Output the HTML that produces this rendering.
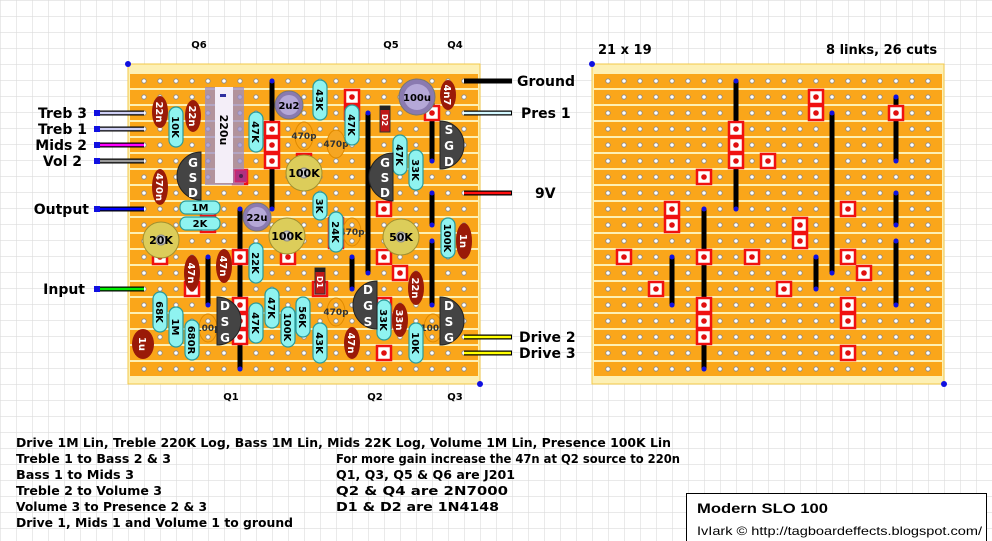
<!DOCTYPE html>
<html><head><meta charset="utf-8"><style>
html,body{margin:0;padding:0;background:#fff}
svg{display:block}
text{font-family:"DejaVu Sans","Liberation Sans",sans-serif;font-weight:bold}
.r{fill:#8ff3f0;stroke:#2a9a9a;stroke-width:1.2}
.rt{font-size:10px;fill:#000}
.c{fill:#9a1a08}
.ct{font-size:10px;fill:#fff}
.sc{fill:none;stroke:#e08a00;stroke-width:1}
.st{font-size:9px;fill:#333;font-weight:bold}
.lbl{font-size:14px;fill:#000}
.bt{font-size:12.5px;fill:#000;font-family:"Liberation Sans",sans-serif}
</style></head><body>
<svg width="992" height="541" viewBox="0 0 992 541" xmlns="http://www.w3.org/2000/svg">
<defs>
<pattern id="grid" x="0" y="0" width="16" height="16" patternUnits="userSpaceOnUse">
<path d="M0 0H16M0 0V16" stroke="#dcdcdc" stroke-width="1.2" fill="none"/></pattern>
<pattern id="strip" x="0" y="73" width="16" height="16" patternUnits="userSpaceOnUse">
<rect x="0" y="1" width="16" height="14" fill="#faa61a"/></pattern>
<pattern id="holes" x="136" y="73" width="16" height="16" patternUnits="userSpaceOnUse">
<circle cx="8" cy="8" r="2.2" fill="#fff" stroke="#888" stroke-width="0.8"/></pattern>
<pattern id="holes2" x="600" y="73" width="16" height="16" patternUnits="userSpaceOnUse">
<circle cx="8" cy="8" r="2.2" fill="#fff" stroke="#888" stroke-width="0.8"/></pattern>
<g id="cut"><rect x="-7" y="-7" width="14" height="14" fill="#fff" stroke="#f01010" stroke-width="2.5"/><circle r="2.8" fill="#e01010"/></g>
</defs>
<rect width="992" height="541" fill="url(#grid)"/>

<rect x="128" y="64" width="352" height="320" fill="#fdf0b4" stroke="#f2c84a"/>
<rect x="130" y="73" width="348" height="304" fill="url(#strip)"/>
<rect x="136" y="73" width="336" height="304" fill="url(#holes)"/>
<rect x="592" y="64" width="352" height="320" fill="#fdf0b4" stroke="#f2c84a"/>
<rect x="594" y="73" width="348" height="304" fill="url(#strip)"/>
<rect x="600" y="73" width="336" height="304" fill="url(#holes2)"/>
<circle cx="128" cy="64" r="3" fill="#1010e0"/><circle cx="480" cy="384" r="3" fill="#1010e0"/>
<circle cx="592" cy="64" r="3" fill="#1010e0"/><circle cx="944" cy="384" r="3" fill="#1010e0"/>

<g id="lc">
<g stroke="#000" stroke-width="5">
<line x1="272" y1="81" x2="272" y2="209"/>
<line x1="368" y1="113" x2="368" y2="273"/>
<line x1="432" y1="97" x2="432" y2="161"/>
<line x1="432" y1="193" x2="432" y2="225"/>
<line x1="432" y1="241" x2="432" y2="305"/>
<line x1="208" y1="257" x2="208" y2="305"/>
<line x1="352" y1="257" x2="352" y2="289"/>
<line x1="240" y1="209" x2="240" y2="369"/>
</g>
<g fill="#1010e0">
<circle cx="272" cy="81" r="2.5"/><circle cx="272" cy="209" r="2.5"/><circle cx="368" cy="113" r="2.5"/><circle cx="368" cy="273" r="2.5"/>
<circle cx="432" cy="97" r="2.5"/><circle cx="432" cy="161" r="2.5"/><circle cx="432" cy="193" r="2.5"/><circle cx="432" cy="225" r="2.5"/>
<circle cx="432" cy="241" r="2.5"/><circle cx="432" cy="305" r="2.5"/><circle cx="208" cy="257" r="2.5"/><circle cx="208" cy="305" r="2.5"/>
<circle cx="352" cy="257" r="2.5"/><circle cx="352" cy="289" r="2.5"/><circle cx="240" cy="209" r="2.5"/><circle cx="240" cy="369" r="2.5"/>
</g>
<use href="#cut" x="352" y="97"/><use href="#cut" x="352" y="113"/><use href="#cut" x="432" y="113"/>
<use href="#cut" x="272" y="129"/><use href="#cut" x="272" y="145"/><use href="#cut" x="272" y="161"/><use href="#cut" x="304" y="161"/>
<use href="#cut" x="240" y="177"/>
<use href="#cut" x="208" y="209"/><use href="#cut" x="384" y="209"/>
<use href="#cut" x="208" y="225"/><use href="#cut" x="336" y="225"/>
<use href="#cut" x="336" y="241"/>
<use href="#cut" x="160" y="257"/><use href="#cut" x="240" y="257"/><use href="#cut" x="288" y="257"/><use href="#cut" x="384" y="257"/>
<use href="#cut" x="400" y="273"/>
<use href="#cut" x="192" y="289"/><use href="#cut" x="320" y="289"/>
<use href="#cut" x="240" y="305"/><use href="#cut" x="384" y="305"/>
<use href="#cut" x="240" y="321"/><use href="#cut" x="384" y="321"/>
<use href="#cut" x="240" y="337"/>
<use href="#cut" x="384" y="353"/>
</g>
<use href="#lc" x="464" y="0"/>

<g stroke="#000" stroke-width="5"><line x1="96" y1="113" x2="144" y2="113"/><line x1="96" y1="129" x2="144" y2="129"/><line x1="96" y1="145" x2="144" y2="145"/><line x1="96" y1="161" x2="144" y2="161"/><line x1="96" y1="209" x2="144" y2="209"/><line x1="96" y1="289" x2="144" y2="289"/>
<line x1="464" y1="81" x2="512" y2="81"/><line x1="464" y1="113" x2="512" y2="113"/><line x1="464" y1="193" x2="512" y2="193"/><line x1="464" y1="337" x2="512" y2="337"/><line x1="464" y1="353" x2="512" y2="353"/></g>
<g stroke-width="2.5"><line x1="97" y1="113" x2="144" y2="113" stroke="#cfd0f5"/><line x1="97" y1="129" x2="144" y2="129" stroke="#cfd0f5"/><line x1="97" y1="145" x2="144" y2="145" stroke="#ff00ff"/><line x1="97" y1="161" x2="144" y2="161" stroke="#999"/><line x1="97" y1="209" x2="144" y2="209" stroke="#0000ff"/><line x1="97" y1="289" x2="144" y2="289" stroke="#00ee00"/>
<line x1="464" y1="113" x2="511" y2="113" stroke="#d4f8ff"/><line x1="464" y1="193" x2="511" y2="193" stroke="#ff1010"/><line x1="464" y1="337" x2="511" y2="337" stroke="#ffff00"/><line x1="464" y1="353" x2="511" y2="353" stroke="#ffff00"/></g>
<g fill="#1010e0"><rect x="94" y="110" width="6" height="6"/><rect x="94" y="126" width="6" height="6"/><rect x="94" y="142" width="6" height="6"/><rect x="94" y="158" width="6" height="6"/><rect x="94" y="206" width="6" height="6"/><rect x="94" y="286" width="6" height="6"/></g>

<rect x="205" y="87" width="39" height="98" fill="#9a8cc8" opacity="0.75"/>
<rect x="215" y="87" width="18" height="96" fill="#f4eef8"/>
<rect x="220" y="94" width="6" height="3" fill="#3030a0"/>
<text class="rt" transform="rotate(90 224 130)" x="224" y="134" text-anchor="middle" style="font-size:11px">220u</text>
<rect x="235" y="170" width="12" height="12" fill="#b03080" stroke="#e02060"/><circle cx="241" cy="176" r="2" fill="#502050"/>

<circle cx="289" cy="105" r="14" fill="#8a7ab0" stroke="#777"/><circle cx="289" cy="105" r="10" fill="#b5a8d8"/><text x="289" y="109" class="rt" text-anchor="middle">2u2</text>
<circle cx="257" cy="217" r="14" fill="#8a7ab0" stroke="#777"/><circle cx="257" cy="217" r="10" fill="#b5a8d8"/><text x="257" y="221" class="rt" text-anchor="middle">22u</text>
<circle cx="417" cy="97" r="18" fill="#8a7ab0" stroke="#777"/><circle cx="417" cy="97" r="13" fill="#b5a8d8"/><text x="417" y="101" class="rt" text-anchor="middle">100u</text>

<g fill="#dccd5a" stroke="#a09030">
<circle cx="161" cy="240" r="18"/><circle cx="304" cy="173" r="18"/><circle cx="287" cy="236" r="18"/><circle cx="401" cy="237" r="18"/></g>
<g fill="#ccc" stroke="#888"><circle cx="161" cy="240" r="5"/><circle cx="304" cy="173" r="5"/><circle cx="287" cy="236" r="5"/><circle cx="401" cy="237" r="5"/></g>
<text class="rt" style="font-size:11px" x="161" y="244" text-anchor="middle">20K</text>
<text class="rt" style="font-size:11px" x="304" y="177" text-anchor="middle">100K</text>
<text class="rt" style="font-size:11px" x="287" y="240" text-anchor="middle">100K</text>
<text class="rt" style="font-size:11px" x="401" y="241" text-anchor="middle">50K</text>

<g class="sc"><ellipse cx="304" cy="136" rx="9" ry="14"/><ellipse cx="336" cy="144" rx="9" ry="14" fill="#f5a623"/><ellipse cx="352" cy="232" rx="9" ry="14"/><ellipse cx="336" cy="312" rx="9" ry="14"/><ellipse cx="208" cy="328" rx="9" ry="14"/><ellipse cx="433" cy="328" rx="9" ry="14"/></g>
<g class="st" text-anchor="middle"><text x="304" y="139">470p</text><text x="336" y="147">470p</text><text x="352" y="235">470p</text><text x="336" y="315">470p</text><text x="208" y="331">100p</text><text x="433" y="331">100p</text></g>

<g class="c">
<ellipse cx="160" cy="112" rx="8" ry="16"/><ellipse cx="193" cy="116" rx="8" ry="16"/><ellipse cx="160" cy="187" rx="8" ry="18"/>
<ellipse cx="192" cy="273" rx="8" ry="18"/><ellipse cx="224" cy="266" rx="8" ry="17"/><ellipse cx="448" cy="95" rx="8" ry="15"/>
<ellipse cx="464" cy="241" rx="8" ry="18"/><ellipse cx="416" cy="288" rx="8" ry="17"/><ellipse cx="400" cy="320" rx="8" ry="17"/>
<ellipse cx="352" cy="343" rx="8" ry="16"/><ellipse cx="143" cy="344" rx="11" ry="15"/></g>
<g class="ct" text-anchor="middle">
<text transform="rotate(90 160 112)" x="160" y="116">22n</text><text transform="rotate(90 193 116)" x="193" y="120">22n</text>
<text transform="rotate(90 160 187)" x="160" y="191">470n</text><text transform="rotate(90 192 273)" x="192" y="277">47n</text>
<text transform="rotate(90 224 266)" x="224" y="270">47n</text><text transform="rotate(90 448 95)" x="448" y="99">4n7</text>
<text transform="rotate(90 464 241)" x="464" y="245">1n</text><text transform="rotate(90 416 288)" x="416" y="292">22n</text>
<text transform="rotate(90 400 320)" x="400" y="324">33n</text><text transform="rotate(90 352 343)" x="352" y="347">47n</text>
<text transform="rotate(90 143 344)" x="143" y="348">1u</text></g>

<g class="r">
<rect x="169" y="107" width="14" height="40" rx="7"/><rect x="249" y="112" width="14" height="40" rx="7"/><rect x="313" y="80" width="14" height="40" rx="7"/>
<rect x="345" y="105" width="14" height="40" rx="7"/><rect x="393" y="135" width="14" height="40" rx="7"/><rect x="409" y="150" width="14" height="40" rx="7"/>
<rect x="313" y="192" width="14" height="28" rx="7"/><rect x="329" y="212" width="14" height="40" rx="7"/><rect x="441" y="218" width="14" height="40" rx="7"/>
<rect x="249" y="243" width="14" height="40" rx="7"/><rect x="153" y="292" width="14" height="40" rx="7"/><rect x="169" y="307" width="14" height="40" rx="7"/>
<rect x="185" y="320" width="14" height="40" rx="7"/><rect x="249" y="303" width="14" height="40" rx="7"/><rect x="265" y="288" width="14" height="40" rx="7"/>
<rect x="281" y="307" width="14" height="40" rx="7"/><rect x="296" y="297" width="14" height="40" rx="7"/><rect x="313" y="323" width="14" height="40" rx="7"/>
<rect x="377" y="300" width="14" height="40" rx="7"/><rect x="409" y="323" width="14" height="40" rx="7"/>
<rect x="180" y="201" width="40" height="13" rx="6"/><rect x="180" y="217" width="40" height="13" rx="6"/></g>
<g class="rt" text-anchor="middle">
<text transform="rotate(90 176 127)" x="176" y="131">10K</text><text transform="rotate(90 256 132)" x="256" y="136">47K</text>
<text transform="rotate(90 320 100)" x="320" y="104">43K</text><text transform="rotate(90 352 125)" x="352" y="129">47K</text>
<text transform="rotate(90 400 155)" x="400" y="159">47K</text><text transform="rotate(90 416 170)" x="416" y="174">33K</text>
<text transform="rotate(90 320 206)" x="320" y="210">3K</text><text transform="rotate(90 336 232)" x="336" y="236">24K</text>
<text transform="rotate(90 448 238)" x="448" y="242">100K</text><text transform="rotate(90 256 263)" x="256" y="267">22K</text>
<text transform="rotate(90 160 312)" x="160" y="316">68K</text><text transform="rotate(90 176 327)" x="176" y="331">1M</text>
<text transform="rotate(90 192 340)" x="192" y="344">680R</text><text transform="rotate(90 256 323)" x="256" y="327">47K</text>
<text transform="rotate(90 272 308)" x="272" y="312">47K</text><text transform="rotate(90 288 327)" x="288" y="331">100K</text>
<text transform="rotate(90 303 317)" x="303" y="321">56K</text><text transform="rotate(90 320 343)" x="320" y="347">43K</text>
<text transform="rotate(90 384 320)" x="384" y="324">33K</text><text transform="rotate(90 416 343)" x="416" y="347">10K</text>
<text x="200" y="211">1M</text><text x="200" y="227">2K</text></g>

<rect x="380" y="106" width="10" height="26" fill="#c01818" stroke="#333"/><rect x="380" y="106" width="10" height="4" fill="#222"/>
<text class="ct" style="font-size:8px" transform="rotate(90 385 120)" x="385" y="123" text-anchor="middle">D2</text>
<rect x="315" y="268" width="10" height="26" fill="#c01818" stroke="#333"/><rect x="315" y="268" width="10" height="4" fill="#222"/>
<text class="ct" style="font-size:8px" transform="rotate(90 320 282)" x="320" y="285" text-anchor="middle">D1</text>

<g fill="#444" stroke="#222">
<path d="M201 152 V200 A24 24 0 0 1 201 152Z"/>
<path d="M393 153 V201 A24 24 0 0 1 393 153Z"/>
<path d="M440 121 V169 A24 24 0 0 0 440 121Z"/>
<path d="M217 297 V345 A24 24 0 0 0 217 297Z"/>
<path d="M377 281 V329 A24 24 0 0 1 377 281Z"/>
<path d="M440 297 V345 A24 24 0 0 0 440 297Z"/>
</g>
<g fill="#fff" text-anchor="middle" style="font-size:12px">
<text x="193" y="167">G</text><text x="193" y="182">S</text><text x="193" y="197">D</text>
<text x="385" y="167">G</text><text x="385" y="182">S</text><text x="385" y="197">D</text>
<text x="449" y="134">S</text><text x="449" y="150">G</text><text x="449" y="166">D</text>
<text x="225" y="310">D</text><text x="225" y="326">S</text><text x="225" y="342">G</text>
<text x="368" y="294">D</text><text x="368" y="310">G</text><text x="368" y="326">S</text>
<text x="449" y="310">D</text><text x="449" y="326">S</text><text x="449" y="342">G</text>
</g>

<g style="font-size:10px" text-anchor="middle"><text x="199" y="48">Q6</text><text x="391" y="48">Q5</text><text x="455" y="48">Q4</text><text x="231" y="400">Q1</text><text x="375" y="400">Q2</text><text x="455" y="400">Q3</text></g>
<g class="lbl" text-anchor="end"><text x="87" y="118">Treb 3</text><text x="87" y="134">Treb 1</text><text x="87" y="150">Mids 2</text><text x="82" y="166">Vol 2</text><text x="89" y="214">Output</text><text x="85" y="294">Input</text></g>
<g class="lbl"><text x="517" y="86">Ground</text><text x="521" y="118">Pres 1</text><text x="535" y="198">9V</text><text x="519" y="342">Drive 2</text><text x="519" y="358">Drive 3</text></g>
<text x="598" y="54" style="font-size:13px">21 x 19</text><text x="826" y="54" style="font-size:13px">8 links, 26 cuts</text>

<g class="bt">
<text x="16" y="447" textLength="655" lengthAdjust="spacingAndGlyphs">Drive 1M Lin, Treble 220K Log, Bass 1M Lin, Mids 22K Log, Volume 1M Lin, Presence 100K Lin</text>
<text x="16" y="463" textLength="155" lengthAdjust="spacingAndGlyphs">Treble 1 to Bass 2 &amp; 3</text>
<text x="16" y="479" textLength="118" lengthAdjust="spacingAndGlyphs">Bass 1 to Mids 3</text>
<text x="16" y="495" textLength="146" lengthAdjust="spacingAndGlyphs">Treble 2 to Volume 3</text>
<text x="16" y="511" textLength="191" lengthAdjust="spacingAndGlyphs">Volume 3 to Presence 2 &amp; 3</text>
<text x="16" y="527" textLength="277" lengthAdjust="spacingAndGlyphs">Drive 1, Mids 1 and Volume 1 to ground</text>
<text x="336" y="463" textLength="344" lengthAdjust="spacingAndGlyphs">For more gain increase the 47n at Q2 source to 220n</text>
<text x="336" y="479" textLength="179" lengthAdjust="spacingAndGlyphs">Q1, Q3, Q5 &amp; Q6 are J201</text>
<text x="336" y="495" textLength="172" lengthAdjust="spacingAndGlyphs">Q2 &amp; Q4 are 2N7000</text>
<text x="336" y="511" textLength="163" lengthAdjust="spacingAndGlyphs">D1 &amp; D2 are 1N4148</text>
</g>
<rect x="686.5" y="493.5" width="300" height="50" fill="#fff" stroke="#000"/>
<text x="697" y="513" style="font-size:14px;font-family:'Liberation Sans',sans-serif" textLength="131" lengthAdjust="spacingAndGlyphs">Modern SLO 100</text>
<text x="697" y="535" style="font-size:12px;font-weight:normal;font-family:'Liberation Sans',sans-serif" textLength="285" lengthAdjust="spacingAndGlyphs">IvIark © http://tagboardeffects.blogspot.com/</text>
</svg>
</body></html>
